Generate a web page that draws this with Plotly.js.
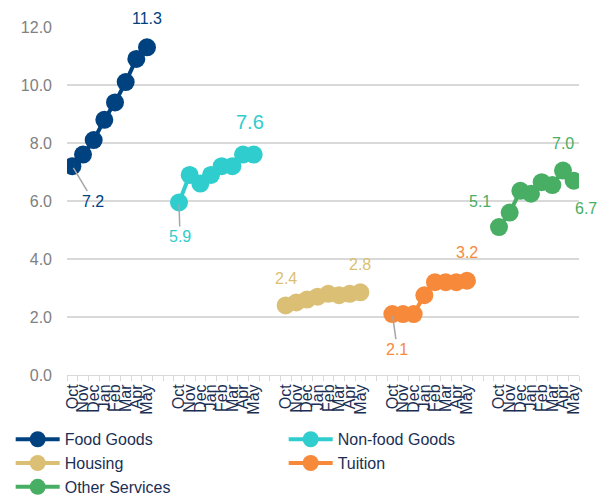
<!DOCTYPE html>
<html><head><meta charset="utf-8">
<script src="https://cdn.plot.ly/plotly-3.0.1.min.js"></script>
<style>body{margin:0;padding:0;background:#fff}#chart{width:606px;height:495px}</style>
</head><body><div id="chart"></div>
<script>
const months = ["Oct","Nov","Dec","Jan","Feb","Mar","Apr","May"];
const seriesNames = ["Food Goods","Non-food Goods","Housing","Tuition","Other Services"];
const foodGoods     = [7.2, 7.6, 8.1, 8.8, 9.4, 10.1, 10.9, 11.3];
const nonFoodGoods  = [5.95, 6.9, 6.6, 6.9, 7.2, 7.2, 7.6, 7.6];
const housing       = [2.4, 2.5, 2.6, 2.7, 2.8, 2.75, 2.8, 2.85];
const tuition       = [2.1, 2.1, 2.1, 2.75, 3.2, 3.2, 3.2, 3.25];
const otherServices = [5.1, 5.6, 6.35, 6.25, 6.65, 6.55, 7.05, 6.7];
const allSeries = [foodGoods, nonFoodGoods, housing, tuition, otherServices];
const colors = ["#00417f","#2fcdcd","#dbbf74","#f68a3a","#48ae64"];
const gap = 2;
const groupSize = months.length + gap;

const traces = allSeries.map((vals, g) => ({
  type: 'scatter', mode: 'lines+markers', name: seriesNames[g],
  x: months.map((m, i) => g * groupSize + i),
  y: vals,
  line: {color: colors[g], width: 4},
  marker: {color: colors[g], size: 18},
  hoverinfo: 'skip'
}));

const tickvals = [], ticktext = [];
allSeries.forEach((v, g) => months.forEach((m, i) => { tickvals.push(g * groupSize + i); ticktext.push(m); }));
const nCats = seriesNames.length * groupSize - gap;

function fmt(v) { return v.toFixed(1); }
function pt(g, i) { return {x: g * groupSize + i, y: allSeries[g][i]}; }
function lbl(g, i, text, opts) {
  const p = pt(g, i);
  return Object.assign({x: p.x, y: p.y, xref: 'x', yref: 'y', text: text, showarrow: false,
    font: {size: 16, color: colors[g], family: 'Liberation Sans, Arial, sans-serif'}}, opts);
}
function arrowLbl(g, i, text, ax, ay) {
  const p = pt(g, i);
  return {x: p.x, y: p.y, xref: 'x', yref: 'y', text: text, showarrow: true, arrowhead: 0,
    arrowwidth: 1.5, arrowcolor: '#a6a6a6', ax: ax, ay: ay, standoff: 2, startstandoff: 0,
    font: {size: 16, color: colors[g], family: 'Liberation Sans, Arial, sans-serif'}};
}
const annotations = [
  arrowLbl(0, 0, fmt(foodGoods[0]), 21, 35),
  lbl(0, 7, fmt(foodGoods[7]), {yshift: 29}),
  arrowLbl(1, 0, "5.9", 1, 34),
  lbl(1, 7, fmt(nonFoodGoods[7]), {yshift: 33, xshift: -4, font: {size: 20, color: colors[1], family: 'Liberation Sans, Arial, sans-serif'}}),
  lbl(2, 0, fmt(housing[0]), {yshift: 27}),
  lbl(2, 7, "2.8", {yshift: 28}),
  arrowLbl(3, 0, fmt(tuition[0]), 5, 35),
  lbl(3, 7, "3.2", {yshift: 28}),
  lbl(4, 0, fmt(otherServices[0]), {xshift: -19, yshift: 26}),
  lbl(4, 6, "7.0", {yshift: 27}),
  lbl(4, 7, fmt(otherServices[7]), {xshift: 12, yshift: -28})
];

const layout = {
  width: 606, height: 495,
  margin: {l: 67, r: 27, t: 27, b: 120, autoexpand: false},
  paper_bgcolor: '#fff', plot_bgcolor: '#fff',
  font: {family: 'Liberation Sans, Arial, sans-serif'},
  showlegend: true,
  xaxis: {
    type: 'linear', range: [-0.5, nCats - 0.5], fixedrange: true, automargin: false,
    tickmode: 'array', tickvals: tickvals, ticktext: ticktext, tickangle: -90,
    ticks: '', showgrid: false, zeroline: false,
    showline: true, linecolor: '#d9d9d9', linewidth: 1,
    tickfont: {size: 16, color: '#1b2f55'}, ticklabelstandoff: 2,
    minor: {tickmode: 'linear', tick0: -0.5, dtick: 1, ticks: 'outside', ticklen: 5, tickcolor: '#d9d9d9', tickwidth: 1, showgrid: false}
  },
  yaxis: {
    range: [0, 12], dtick: 2, tickformat: '.1f', fixedrange: true, automargin: false,
    showgrid: true, gridcolor: '#d9d9d9', gridwidth: 1.5, zeroline: false, showline: false,
    tickfont: {size: 16, color: '#808080'}, ticklabelstandoff: 14
  },
  legend: {
    orientation: 'h', x: -0.11, xanchor: 'left', y: -0.136, yanchor: 'top',
    entrywidth: 214, entrywidthmode: 'pixels', itemwidth: 44,
    font: {size: 16, color: '#1b2f55'}, bgcolor: 'rgba(0,0,0,0)'
  },
  annotations: annotations
};
Plotly.newPlot('chart', traces, layout, {displayModeBar: false, staticPlot: true});
</script></body></html>
